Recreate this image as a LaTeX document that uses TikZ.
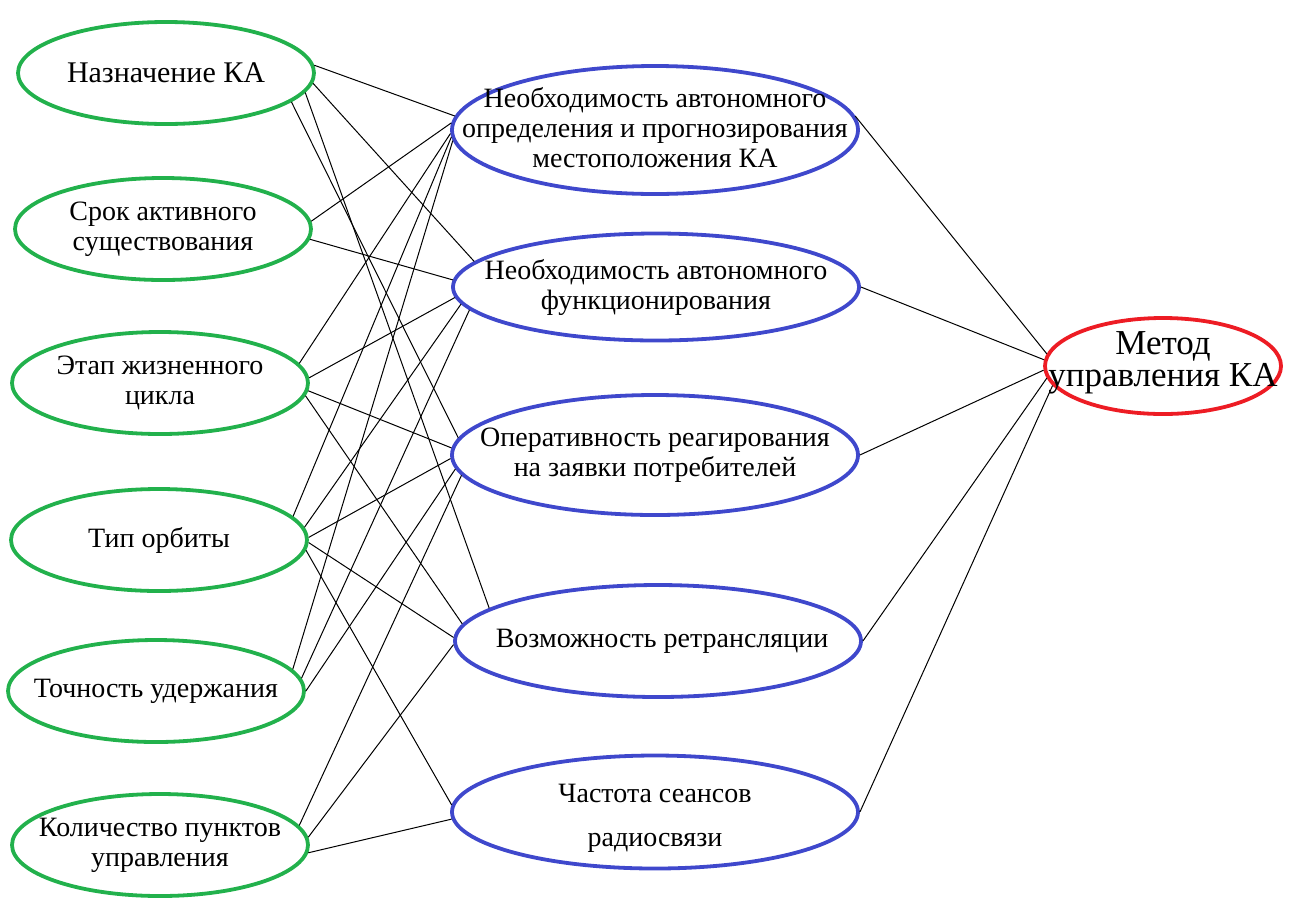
\documentclass[tikz,border=0pt]{standalone}
\usepackage{fontspec}
\setmainfont{Liberation Serif}
\usetikzlibrary{shapes.geometric}
\definecolor{gcol}{RGB}{34,177,76}
\definecolor{bcol}{RGB}{63,72,204}
\definecolor{rcol}{RGB}{237,28,36}
\begin{document}
\begin{tikzpicture}[x=0.5pt,y=-0.5pt,
 ell/.style={ellipse, inner sep=0pt, line width=1.9pt},
 gell/.style={ell, draw=gcol, minimum width=148pt, minimum height=51pt},
 bell/.style={ell, draw=bcol, minimum width=203pt},
 rell/.style={ell, draw=rcol, minimum width=118pt, minimum height=48pt},
 lbl/.style={align=center, inner sep=0pt, font=\fontsize{14}{15}\selectfont},
 big/.style={lbl, font=\fontsize{15}{16}\selectfont},
 rbig/.style={lbl, font=\fontsize{17.5}{16}\selectfont},
 con/.style={line width=0.5pt, black}]
\useasboundingbox (0,0) rectangle (1294,906);
% left column
\node[gell, label={[big]center:{Назначение КА}}] (g1) at (166,73) {};
\node[gell, label={[lbl]center:{Срок активного\\существования}}] (g2) at (163,229) {};
\node[gell, label={[lbl]center:{Этап жизненного\\цикла}}] (g3) at (160,383) {};
\node[gell, label={[lbl]center:{Тип орбиты}}] (g4) at (159,540) {};
\node[gell, label={[lbl]center:{Точность удержания}}] (g5) at (156,691) {};
\node[gell, label={[lbl]center:{Количество пунктов\\управления}}] (g6) at (160,845) {};
% middle column
\node[bell, minimum height=64pt, label={[lbl,yshift=1pt]center:{Необходимость автономного\\определения и прогнозирования\\местоположения КА}}] (b1) at (655,130) {};
\node[bell, minimum height=53.5pt, label={[lbl]center:{Необходимость автономного\\функционирования}}] (b2) at (656,287) {};
\node[bell, minimum height=60pt, label={[lbl]center:{Оперативность реагирования\\на заявки потребителей}}] (b3) at (655,455) {};
\node[bell, minimum height=56pt, label={[lbl,xshift=2pt]center:{Возможность ретрансляции}}] (b4) at (658,641) {};
\node[bell, minimum height=56.5pt, label={[lbl,yshift=-3pt]center:{Частота сеансов\\[7pt]радиосвязи}}] (b5) at (655,812) {};
% right
\node[rell, label={[rbig,yshift=1.5pt]center:{Метод\\управления КА}}] (r) at (1163,366) {};
% connectors left -> middle
\draw[con] (g1.3) -- (b1.176);
\draw[con] (g1.356) -- (b2.172);
\draw[con] (g1.347) -- (b3.175);
\draw[con] (g1.352) -- (b4.169);
\draw[con] (g2.3) -- (b1.178);
\draw[con] (g2.356) -- (b2.178);
\draw[con] (g3.8) -- (b1.181);
\draw[con] (g3.2) -- (b2.183);
\draw[con] (g3.357) -- (b3.178);
\draw[con] (g3.355) -- (b4.175);
\draw[con] (g4.10) -- (b1.182);
\draw[con] (g4.5) -- (b2.185);
\draw[con] (g4.1) -- (b3.181);
\draw[con] (g4.359) -- (b4.179);
\draw[con] (g4.356) -- (b5.178);
\draw[con] (g5.9) -- (b1.183);
\draw[con] (g5.5) -- (b2.187);
\draw[con] (g5.0) -- (b3.184);
\draw[con] (g6.8) -- (b3.186);
\draw[con] (g6.3) -- (b4.181);
\draw[con] (g6.357) -- (b5.182);
% connectors middle -> right
\draw[con] (b1.4) -- (r.174);
\draw[con] (b2.0) -- (r.177);
\draw[con] (b3.0) -- (r.182);
\draw[con] (b4.0) -- (r.186);
\draw[con] (b5.0) -- (r.190);
\end{tikzpicture}
\end{document}
